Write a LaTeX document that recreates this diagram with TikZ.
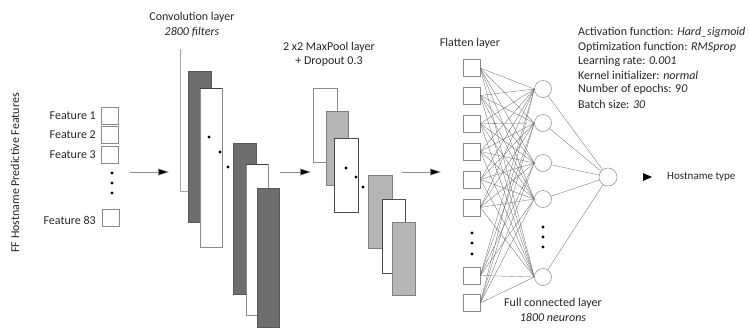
\documentclass[tikz,border=0pt]{standalone}
\usepackage{fontspec}
\setmainfont{Carlito}
\usetikzlibrary{arrows.meta}
\definecolor{txt}{HTML}{262626}
\definecolor{darkfm}{HTML}{6E6E6E}
\definecolor{lightfm}{HTML}{B5B5B5}
\definecolor{edge}{HTML}{8A8A8A}
\tikzset{
  every node/.style={font=\fontsize{12}{14.4}\selectfont, text=txt, inner sep=0pt},
  featbox/.style={draw=edge, line width=0.6pt, minimum width=17pt, minimum height=17pt, fill=white},
  neuron/.style={circle, draw=edge, line width=0.5pt, minimum size=17pt, fill=white},
  conn/.style={draw=black!60, line width=0.3pt},
  flowarrow/.style={draw=black!45, line width=0.5pt, -{Triangle[length=11pt,width=7pt,fill=black]}},
  darkmap/.style={fill=darkfm, draw=darkfm!80!black, line width=0.4pt},
  lightmap/.style={fill=lightfm, draw=black!50, line width=0.4pt},
  whitemap/.style={fill=white, draw=black!45, line width=0.5pt},
  dotmark/.style={fill=black},
}
\begin{document}
\begin{tikzpicture}[x=1pt,y=-1pt]
\useasboundingbox (0,0) rectangle (749,327);

% vertical title
\node[rotate=90] (title) at (15,173) {FF Hostname Predictive Features};

% input features
\node[featbox] (f1) at (109.5,116) {};
\node[featbox] (f2) at (109.5,135) {};
\node[featbox] (f3) at (109.5,155) {};
\node[featbox] (f83) at (111,218) {};
\node[anchor=east] (l1) at (96,116) {Feature 1};
\node[anchor=east] (l2) at (96,135) {Feature 2};
\node[anchor=east] (l3) at (96,155) {Feature 3};
\node[anchor=east] (l83) at (96,220) {Feature 83};
\foreach \yy in {173,183,193} \fill[dotmark] (112,\yy) circle (1.7);

% arrow 1
\coordinate (a1s) at (130,172);
\coordinate (a1e) at (169,172);
\draw[flowarrow] (a1s) -- (a1e);

% convolution layer
\node (convt) at (192,17) {Convolution layer};
\node (convs) at (192,32) {\itshape 2800 filters};
\draw[black!35, line width=0.6pt] (188,191) -- (180,191) -- (180,49);
\draw[darkmap] (188,71) rectangle (211,222);
\draw[whitemap] (200,88) rectangle (222,247);
\draw[black!75, line width=0.6pt] (200,88) -- (222,88);
\foreach \xx/\yy in {209/137,220/152,228/167} \fill[dotmark] (\xx,\yy) circle (1.7);
\draw[darkmap] (233,143) rectangle (256,294);
\draw[whitemap] (246,164) rectangle (268,315);
\draw[black!75, line width=0.6pt] (246,164) -- (268,164);
\draw[darkmap] (257,188) rectangle (279,327);

% arrow 2
\coordinate (a2s) at (280,172);
\coordinate (a2e) at (311,172);
\draw[flowarrow] (a2s) -- (a2e);

% maxpool layer
\node (poolt) at (329,47) {2 x2 MaxPool layer};
\node (pools) at (329,62) {+ Dropout 0.3};
\draw[whitemap] (313,88) rectangle (337,162);
\draw[lightmap] (326,111) rectangle (348,185);
\draw[whitemap, draw=black!70] (334,138) rectangle (358,212);
\foreach \xx/\yy in {346/168,356/177,363/187} \fill[dotmark] (\xx,\yy) circle (1.7);
\draw[lightmap] (368,175) rectangle (392,248);
\draw[whitemap, draw=black!70] (382,199) rectangle (405,273);
\draw[lightmap] (392,222) rectangle (415,295);

% arrow 3
\coordinate (a3s) at (402,172);
\coordinate (a3e) at (441,172);
\draw[flowarrow] (a3s) -- (a3e);

% flatten layer
\node (flatt) at (470,43) {Flatten layer};
\foreach \i/\yy in {1/68,2/95.5,3/123.5,4/151.5,5/179.5,6/207.5,7/275.5,8/303}
  \node[featbox] (b\i) at (471.5,\yy) {};
\foreach \yy in {233,243,254} \fill[dotmark] (472,\yy) circle (1.7);

% hidden layer
\foreach \j/\yy in {1/89,2/123,3/163,4/199,5/277}
  \node[neuron] (h\j) at (543,\yy) {};
\foreach \yy in {227,237,247} \fill[dotmark] (543,\yy) circle (1.7);

% output
\node[neuron, minimum size=18pt] (out) at (608,177) {};

% connections
\foreach \i in {1,...,8}
  \foreach \j in {1,...,5}
    \draw[conn] (b\i.east) -- (h\j.west);
\foreach \j in {1,...,5}
  \draw[conn] (h\j) -- (out);

% output arrowhead
\coordinate (tip) at (652,177);
\fill[black] (643,173) -- (tip) -- (643,181) -- cycle;
\node[anchor=west, font=\fontsize{11}{13}\selectfont] (host) at (667,177) {Hostname type};

% fully connected label
\node (fct) at (553,303) {Full connected layer};
\node (fcs) at (553,317) {\itshape 1800 neurons};

% hyperparameters
\node[anchor=west] (p1) at (578,32) {Activation function: \textit{Hard\_sigmoid}};
\node[anchor=west] (p2) at (578,47) {Optimization function: \textit{RMSprop}};
\node[anchor=west] (p3) at (578,61) {Learning rate: \textit{0.001}};
\node[anchor=west] (p4) at (578,75) {Kernel initializer: \textit{normal}};
\node[anchor=west] (p5) at (578,89) {Number of epochs: 9\textit{0}};
\node[anchor=west] (p6) at (578,104) {Batch size: \textit{30}};
\end{tikzpicture}
\end{document}
